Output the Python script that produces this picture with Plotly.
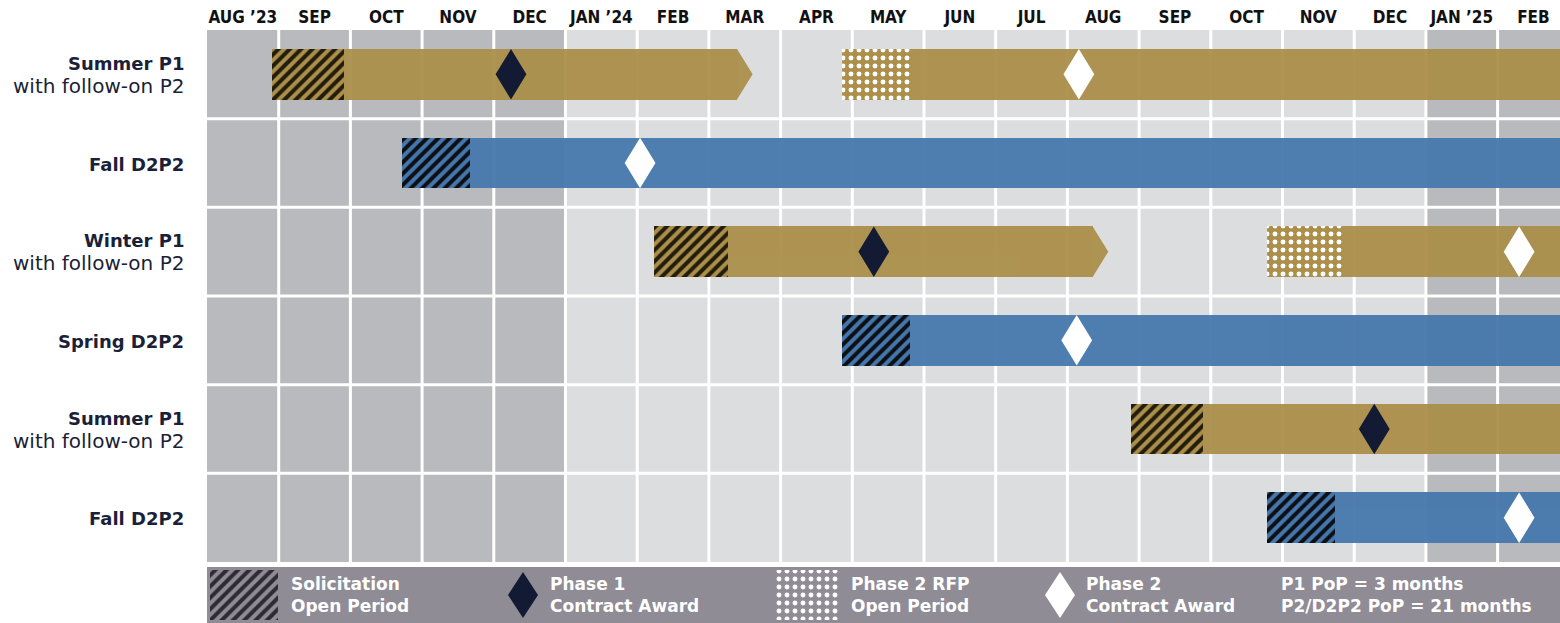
import plotly.graph_objects as go

# ---------------- data ----------------
months = ["AUG ’23", "SEP", "OCT", "NOV", "DEC", "JAN ’24", "FEB", "MAR", "APR",
          "MAY", "JUN", "JUL", "AUG", "SEP", "OCT", "NOV", "DEC", "JAN ’25", "FEB"]
dark_cols = [0, 1, 2, 3, 4, 17, 18]

row_titles = ["Summer P1", "Fall D2P2", "Winter P1", "Spring D2P2", "Summer P1", "Fall D2P2"]
row_subs = ["with follow-on P2", "", "with follow-on P2", "", "with follow-on P2", ""]
row_kind = ["P1", "D2P2", "P1", "D2P2", "P1", "D2P2"]

# positions in months since start of Aug 2023
sol_start = [0.91, 2.72, 6.23, 8.86, 12.89, 14.78]
sol_end = [1.91, 3.67, 7.27, 9.80, 13.89, 15.73]
p1_end = [7.61, None, 12.57, None, 19.60, None]
rfp_start = [8.86, None, 14.78, None, None, None]
rfp_end = [9.80, None, 15.83, None, None, None]
p1_award = [4.24, None, 9.30, None, 16.28, None]
p2_award = [12.16, 6.04, 18.30, 12.13, None, 18.30]
OPEN_END = 20.0

legend_labels = ["Solicitation<br>Open Period", "Phase 1<br>Contract Award",
                 "Phase 2 RFP<br>Open Period", "Phase 2<br>Contract Award",
                 "P1 PoP = 3 months<br>P2/D2P2 PoP = 21 months"]

# ---------------- style ----------------
W, H = 1560, 623
L, T = 207, 30
PLOT_BOTTOM, LEG_TOP = 562, 567
COL_W = 71.7
X_MAX = (W - L) / COL_W
GOLD = "#ab8f4a"
BLUE = "#4677ac"
NAVY = "#131a33"
DARK_BG = "#b9babd"
LIGHT_BG = "#dcdddf"
BAND = "#8f8c96"
BAR_H = 0.575
ARROW = 0.22
DIA_HW = 0.215
DIA_HH = 0.285
LABEL_FONT = "DejaVu Sans"

fig = go.Figure()

# ---- main bars ----
solid = {"P1": dict(y=[], base=[], x=[]), "D2P2": dict(y=[], base=[], x=[])}
hatch = {"P1": dict(y=[], base=[], x=[]), "D2P2": dict(y=[], base=[], x=[])}
dots = dict(y=[], base=[], x=[])
tri_x, tri_y = [], []


def add(d, y, a, b):
    d["y"].append(y)
    d["base"].append(a)
    d["x"].append(b - a)


for r in range(len(row_titles)):
    yc = r + 0.5
    k = row_kind[r]
    add(hatch[k], yc, sol_start[r], sol_end[r])
    if k == "P1":
        ab = p1_end[r] - ARROW
        add(solid[k], yc, sol_end[r], ab)
        tri_x += [ab, p1_end[r], ab, None]
        tri_y += [yc - BAR_H / 2, yc, yc + BAR_H / 2, None]
        if rfp_start[r] is not None:
            add(dots, yc, rfp_start[r], rfp_end[r])
            add(solid[k], yc, rfp_end[r], OPEN_END)
    else:
        add(solid[k], yc, sol_end[r], OPEN_END)

for k, col in (("P1", GOLD), ("D2P2", BLUE)):
    d = solid[k]
    fig.add_trace(go.Bar(orientation="h", y=d["y"], base=d["base"], x=d["x"], width=BAR_H,
                         marker=dict(color=col, line=dict(width=0)), opacity=0.95,
                         hoverinfo="skip", showlegend=False))
fig.add_trace(go.Scatter(x=tri_x, y=tri_y, mode="lines", fill="toself", fillcolor=GOLD,
                         line=dict(width=0), opacity=0.95, hoverinfo="skip", showlegend=False))
for k, col, fg in (("P1", GOLD, "#221c0c"), ("D2P2", BLUE, "#0c0f14")):
    d = hatch[k]
    fig.add_trace(go.Bar(orientation="h", y=d["y"], base=d["base"], x=d["x"], width=BAR_H,
                         marker=dict(color=col, line=dict(width=0),
                                     pattern=dict(shape="/", fgcolor=fg, bgcolor=col,
                                                  fgopacity=1, size=8, solidity=0.5)),
                         hoverinfo="skip", showlegend=False))
fig.add_trace(go.Bar(orientation="h", y=dots["y"], base=dots["base"], x=dots["x"], width=BAR_H,
                     marker=dict(color=GOLD, line=dict(width=0),
                                 pattern=dict(shape=".", fgcolor="white", bgcolor=GOLD,
                                              fgopacity=1, size=8, solidity=0.3)),
                     hoverinfo="skip", showlegend=False))


def diamonds(xs, ys, hw, hh):
    px, py = [], []
    for x, y in zip(xs, ys):
        if x is None:
            continue
        px += [x - hw, x, x + hw, x, None]
        py += [y, y - hh, y, y + hh, None]
    return px, py


rows_c = [r + 0.5 for r in range(len(row_titles))]
for vals, col in ((p1_award, NAVY), (p2_award, "white")):
    dx, dy = diamonds(vals, rows_c, DIA_HW, DIA_HH)
    fig.add_trace(go.Scatter(x=dx, y=dy, mode="lines", fill="toself", fillcolor=col,
                             line=dict(width=0), hoverinfo="skip", showlegend=False))

# ---- background cells and gridlines ----
shapes = []
for i in range(len(months)):
    shapes.append(dict(type="rect", xref="x", yref="y", x0=i, x1=i + 1, y0=0, y1=6,
                       fillcolor=DARK_BG if i in dark_cols else LIGHT_BG,
                       line=dict(width=0), layer="below"))
for i in range(1, len(months)):
    shapes.append(dict(type="line", xref="x", yref="y", x0=i, x1=i, y0=0, y1=6,
                       line=dict(color="white", width=3), layer="below"))
for j in range(1, len(row_titles)):
    shapes.append(dict(type="line", xref="x", yref="y", x0=0, x1=OPEN_END, y0=j, y1=j,
                       line=dict(color="white", width=3), layer="below"))

# ---- legend band (pixel-unit axis) ----
LW, LH = W - L, H - LEG_TOP
shapes.append(dict(type="rect", xref="x2", yref="y2", x0=0, x1=LW, y0=0, y1=LH,
                   fillcolor=BAND, line=dict(width=0), layer="below"))
fig.add_trace(go.Bar(x=[37], y=[50], base=[3], width=[68], xaxis="x2", yaxis="y2",
                     marker=dict(color=BAND, line=dict(width=0),
                                 pattern=dict(shape="/", fgcolor="#2c2b33", bgcolor=BAND,
                                              fgopacity=1, size=8, solidity=0.5)),
                     hoverinfo="skip", showlegend=False))
fig.add_trace(go.Bar(x=[601], y=[50], base=[3], width=[64], xaxis="x2", yaxis="y2",
                     marker=dict(color=BAND, line=dict(width=0),
                                 pattern=dict(shape=".", fgcolor="white", bgcolor=BAND,
                                              fgopacity=1, size=8, solidity=0.3)),
                     hoverinfo="skip", showlegend=False))
for cx, col in ((316, NAVY), (853, "white")):
    dx, dy = diamonds([cx], [28], 15, 23)
    fig.add_trace(go.Scatter(x=dx, y=dy, xaxis="x2", yaxis="y2", mode="lines", fill="toself",
                             fillcolor=col, line=dict(width=0), hoverinfo="skip",
                             showlegend=False))

annotations = []
for txt, lx in zip(legend_labels, [82, 341, 642, 877, 1072]):
    annotations.append(dict(xref="x2", yref="y2", x=lx, y=28, text=f"<b>{txt}</b>",
                            showarrow=False, xanchor="left", yanchor="middle", align="left",
                            font=dict(family=LABEL_FONT, size=17, color="white")))

for r in range(len(row_titles)):
    txt = f"<b>{row_titles[r]}</b>"
    if row_subs[r]:
        txt += f"<br><span style='font-size:20px'>{row_subs[r]}</span>"
    annotations.append(dict(xref="paper", yref="y", x=0, y=r + 0.5, xshift=-21, yshift=-1,
                            text=txt, showarrow=False, xanchor="right", yanchor="middle",
                            align="right",
                            font=dict(family=LABEL_FONT, size=18, color="#1b1f38")))

fig.update_layout(
    width=W, height=H,
    margin=dict(l=L, r=0, t=T, b=0),
    paper_bgcolor="white", plot_bgcolor="white",
    barmode="overlay", bargap=0,
    showlegend=False,
    shapes=shapes, annotations=annotations,
    xaxis=dict(range=[0, X_MAX], side="top", anchor="y", showgrid=False, zeroline=False,
               tickvals=[i + 0.5 for i in range(len(months))], ticktext=months, ticks="",
               ticklabelstandoff=3,
               tickfont=dict(family="Liberation Sans Narrow, Arial Narrow, DejaVu Sans Condensed",
                             size=17, color="#111", weight=700),
               fixedrange=True),
    yaxis=dict(range=[6, 0], domain=[(H - PLOT_BOTTOM) / (H - T), 1], anchor="x",
               showgrid=False, zeroline=False, showticklabels=False, fixedrange=True),
    xaxis2=dict(range=[0, LW], domain=[0, 1], anchor="y2", visible=False, fixedrange=True),
    yaxis2=dict(range=[0, LH], domain=[0, LH / (H - T)], anchor="x2", visible=False,
                fixedrange=True),
)

fig.write_html("out.html", config={"displayModeBar": False},
               post_script="document.body.style.margin='0';"
                           "document.body.style.overflow='hidden';")
